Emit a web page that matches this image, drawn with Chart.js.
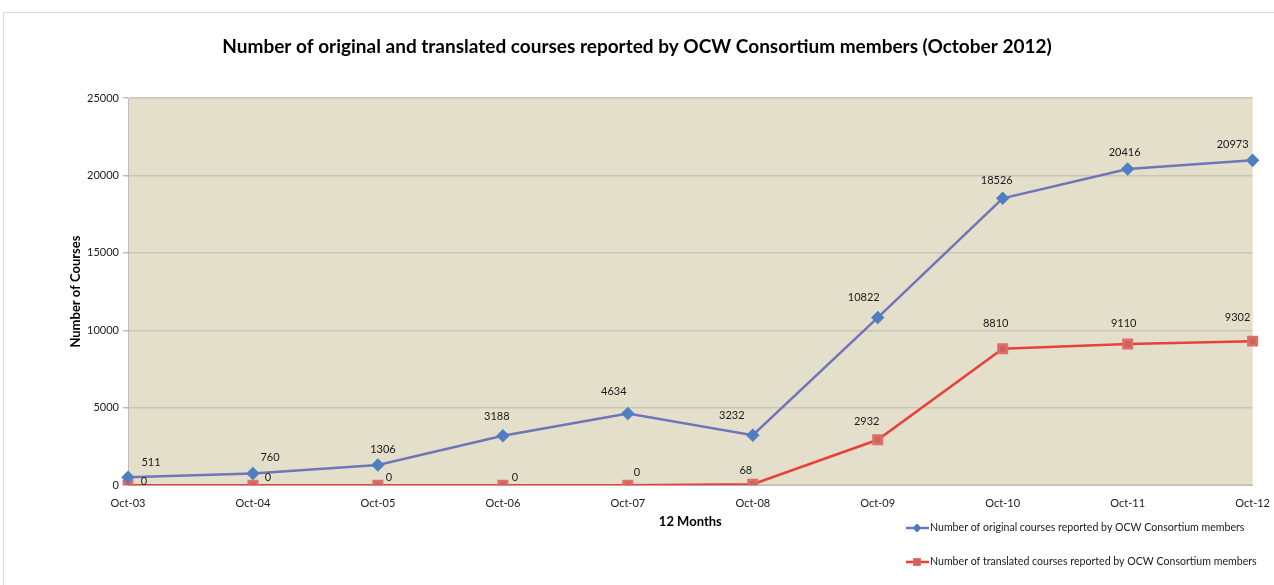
<!DOCTYPE html>
<html>
<head>
<meta charset="utf-8">
<script src="https://cdn.jsdelivr.net/npm/chart.js@4/dist/chart.umd.min.js"></script>
<style>
  html, body { margin: 0; padding: 0; background: #fff; }
  #wrap { position: relative; width: 1274px; height: 585px; }
</style>
</head>
<body>
<div id="wrap"><canvas id="chart" width="1274" height="585"></canvas></div>
<script>
// ── Data ────────────────────────────────────────────────────────────────────

const months = ["Oct-03", "Oct-04", "Oct-05", "Oct-06", "Oct-07",
                "Oct-08", "Oct-09", "Oct-10", "Oct-11", "Oct-12"];
const originalCourses   = [511, 760, 1306, 3188, 4634, 3232, 10822, 18526, 20416, 20973];
const translatedCourses = [0, 0, 0, 0, 0, 68, 2932, 8810, 9110, 9302];
const yTicks = [0, 5000, 10000, 15000, 20000, 25000];

const chartTitle = "Number of original and translated courses reported by OCW Consortium members (October 2012)";

// label nudges (px) so the value labels sit roughly where the original put them
const nudgeOrig  = [[23,-15],[17,-16],[5,-16],[-6,-19],[-14,-22],[-21,-20],[-14,-20],[-6,-18],[-3,-17],[-20,-16]];
const nudgeTrans = [[16,-4],[15,-8],[11,-8],[12,-8],[9,-13],[-7,-14],[-11,-18],[-7,-25],[-4,-21],[-15,-24]];

const FONT = "Lato, 'Liberation Sans', sans-serif";
const BLUE_LINE = "#7174b8";
const BLUE_PT   = "#4f7fc0";
const RED_LINE  = "#e8403a";
const RED_PT    = "#d4605a";

// ── Plugins ─────────────────────────────────────────────────────────────────

const frameAndBg = {
  id: "frameAndBg",
  beforeDraw(chart) {
    const { ctx, chartArea: a } = chart;
    ctx.save();
    ctx.strokeStyle = "#d9d9d9";
    ctx.lineWidth = 1;
    ctx.strokeRect(3.5, 12.5, 1300, 700);
    ctx.fillStyle = "#e3dfcb";
    ctx.fillRect(a.left, a.top, a.right - a.left, a.bottom - a.top);

    // title centred over the whole canvas, like the original
    ctx.fillStyle = "#000";
    ctx.font = `bold 19px ${FONT}`;
    ctx.textAlign = "center";
    ctx.textBaseline = "middle";
    ctx.fillText(chartTitle, chart.width / 2, 47);
    ctx.restore();
  }
};

const valueLabels = {
  id: "valueLabels",
  afterDatasetsDraw(chart) {
    const { ctx } = chart;
    const nudges = [nudgeOrig, nudgeTrans];
    ctx.save();
    ctx.font = `11px ${FONT}`;
    ctx.fillStyle = "#1a1a1a";
    ctx.textAlign = "center";
    ctx.textBaseline = "middle";
    chart.data.datasets.forEach((ds, di) => {
      chart.getDatasetMeta(di).data.forEach((pt, i) => {
        const [dx, dy] = nudges[di][i];
        ctx.fillText(String(ds.data[i]), pt.x + dx, pt.y + dy);
      });
    });
    ctx.restore();
  }
};

const sideLegend = {
  id: "sideLegend",
  afterDraw(chart) {
    const { ctx } = chart;
    const rows = [
      { y: 528, ds: chart.data.datasets[0], style: "rectRot", r: 4 },
      { y: 562, ds: chart.data.datasets[1], style: "rect", r: 5 },
    ];
    ctx.save();
    ctx.font = `10.6px ${FONT}`;
    ctx.textBaseline = "middle";
    ctx.textAlign = "left";
    rows.forEach(row => {
      ctx.strokeStyle = row.ds.borderColor;
      ctx.lineWidth = 2.5;
      ctx.beginPath();
      ctx.moveTo(906, row.y);
      ctx.lineTo(929, row.y);
      ctx.stroke();
      ctx.fillStyle = row.ds.pointBackgroundColor;
      ctx.strokeStyle = row.ds.pointBorderColor;
      ctx.lineWidth = 1;
      Chart.helpers.drawPoint(ctx, {
        pointStyle: row.style, radius: row.r, borderWidth: 1, rotation: 0
      }, 917, row.y);
      ctx.fillStyle = "#1a1a1a";
      ctx.fillText(row.ds.label, 930, row.y);
    });
    ctx.restore();
  }
};

// ── Chart ───────────────────────────────────────────────────────────────────

new Chart(document.getElementById("chart"), {
  type: "line",
  data: {
    labels: months,
    datasets: [
      {
        label: "Number of original courses reported by OCW Consortium members",
        data: originalCourses,
        borderColor: BLUE_LINE,
        backgroundColor: BLUE_PT,
        pointBackgroundColor: BLUE_PT,
        pointBorderColor: BLUE_PT,
        pointStyle: "rectRot",
        pointRadius: 5,
        borderWidth: 2.5,
        tension: 0,
      },
      {
        label: "Number of translated courses reported by OCW Consortium members",
        data: translatedCourses,
        borderColor: RED_LINE,
        backgroundColor: RED_PT,
        pointBackgroundColor: RED_PT,
        pointBorderColor: "#dc6f69",
        pointStyle: "rect",
        pointRadius: 6,
        borderWidth: 2.5,
        tension: 0,
      }
    ]
  },
  options: {
    responsive: false,
    animation: false,
    layout: { padding: { left: 68, right: 15, top: 98, bottom: 47 } },
    plugins: {
      legend: { display: false },
      tooltip: { enabled: false },
      title: { display: false },
    },
    scales: {
      x: {
        offset: false,
        grid: { display: false, drawTicks: true },
        border: { color: "#bdbdbd" },
        ticks: { color: "#1a1a1a", font: { family: FONT, size: 11 }, maxRotation: 0, padding: 4 },
        title: {
          display: true,
          text: "12 Months",
          color: "#000",
          font: { family: FONT, size: 13, weight: "bold" },
          padding: { top: 0, bottom: 8 },
        },
      },
      y: {
        min: 0,
        max: 25000,
        afterBuildTicks: s => { s.ticks = yTicks.map(v => ({ value: v })); },
        afterFit: s => { s.width = 60; },
        grid: { color: "#c9c6b6", lineWidth: 1.5, tickLength: 5, tickColor: "#bdbdbd" },
        border: { color: "#bdbdbd" },
        ticks: {
          color: "#1a1a1a",
          font: { family: FONT, size: 11 },
          padding: 4,
          callback: v => String(v),
        },
        title: {
          display: true,
          text: "Number of Courses",
          color: "#000",
          font: { family: FONT, size: 13, weight: "bold" },
          padding: { top: 0, bottom: 0 },
        },
      }
    }
  },
  plugins: [frameAndBg, valueLabels, sideLegend]
});
</script>
</body>
</html>
